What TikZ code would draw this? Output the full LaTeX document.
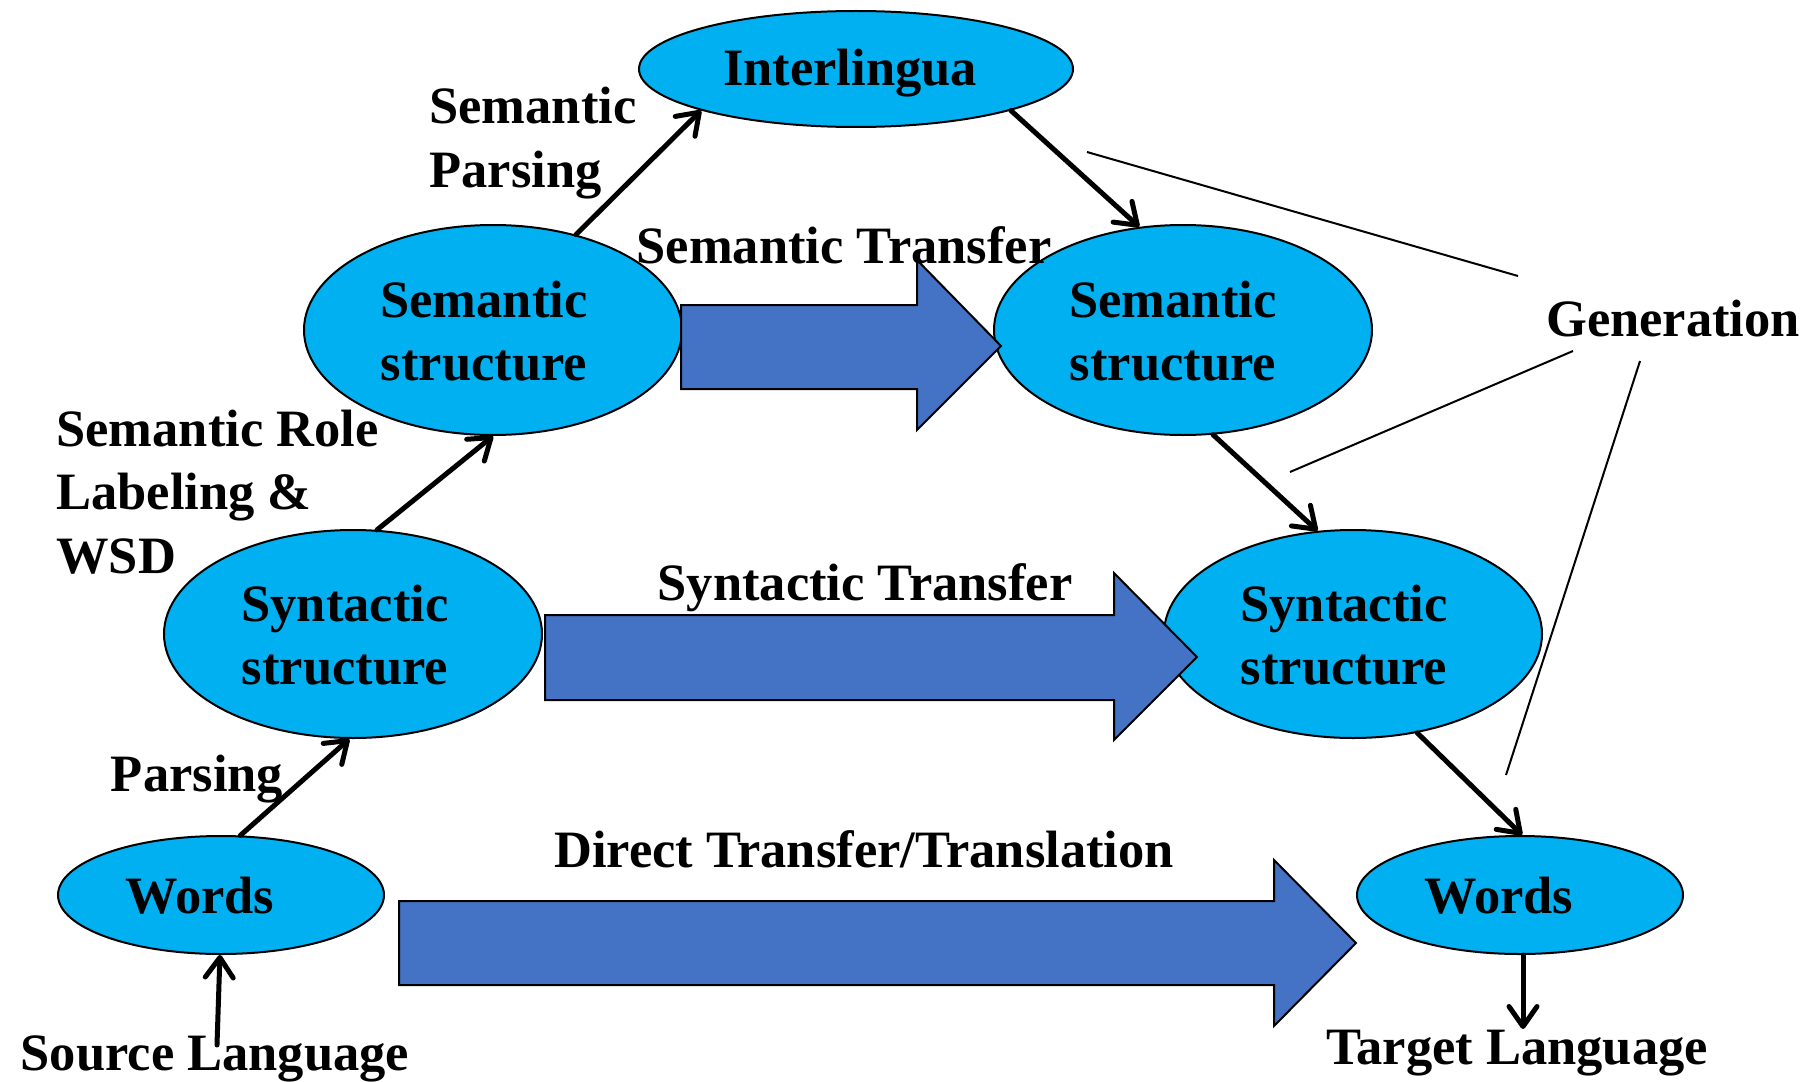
\documentclass[tikz,border=0pt]{standalone}
\usepackage{fontspec}
\setmainfont{Liberation Serif}
\usetikzlibrary{arrows.meta,shapes.geometric}
\definecolor{ellfill}{HTML}{00B0F0}
\definecolor{blockfill}{HTML}{4472C4}
\begin{document}
\begin{tikzpicture}[x=0.5pt,y=-0.5pt,
  ell/.style={ellipse, draw=black, line width=1pt, fill=ellfill, inner sep=0pt},
  lbl/.style={font=\fontsize{26.25}{31.8}\selectfont\bfseries, inner sep=0pt, align=left},
  ctr/.style={font=\fontsize{26.25}{31.8}\selectfont\bfseries, inner sep=0pt, align=center},
  arr/.style={line width=2.5pt, line cap=round, -{Straight Barb[length=10pt,width=14pt,round]}},
  genline/.style={line width=1pt},
  blk/.style={fill=blockfill, draw=black, line width=1pt}]
\useasboundingbox (0,0) rectangle (1814,1081);
% ellipses
\node[ell, minimum width=217pt, minimum height=58pt] (inter) at (856,69) {};
\node[ell, minimum width=189pt, minimum height=105pt] (sem1) at (493,330) {};
\node[ell, minimum width=189pt, minimum height=105pt] (sem2) at (1183,330) {};
\node[ell, minimum width=189pt, minimum height=104pt] (syn1) at (353,634) {};
\node[ell, minimum width=189pt, minimum height=104pt] (syn2) at (1353,634) {};
\node[ell, minimum width=163pt, minimum height=59pt] (w1) at (221,895) {};
\node[ell, minimum width=163pt, minimum height=59pt] (w2) at (1520,895) {};
% block arrows
\path[blk] (681,305) -- (917,305) -- (917,260) -- (1001,346) -- (917,430) -- (917,389) -- (681,389) -- cycle;
\path[blk] (545,615) -- (1114,615) -- (1114,573) -- (1197,657) -- (1114,740) -- (1114,700) -- (545,700) -- cycle;
\path[blk] (399,901) -- (1274,901) -- (1274,860) -- (1356,943) -- (1274,1026) -- (1274,985) -- (399,985) -- cycle;
% ellipse texts
\node[ctr, anchor=base] (tinter) at (850,86) {Interlingua};
\node[ctr] (tsem1) at (484,331) {Semantic\\structure};
\node[ctr] (tsem2) at (1173,331) {Semantic\\structure};
\node[ctr] (tsyn1) at (345,635) {Syntactic\\structure};
\node[ctr] (tsyn2) at (1344,635) {Syntactic\\structure};
\node[ctr, anchor=base] (tw1) at (200,913) {Words};
\node[ctr, anchor=base] (tw2) at (1499,913) {Words};
% labels
\node[lbl, anchor=west] (lsp) at (429,143) {Semantic\\Parsing};
\node[ctr, anchor=base] (lst) at (844,263) {Semantic Transfer};
\node[ctr, anchor=base] (lgen) at (1673,336) {Generation};
\node[lbl, anchor=west] (lsrl) at (56,492) {Semantic Role\\Labeling \&\\WSD};
\node[ctr, anchor=base] (lsyt) at (865,600) {Syntactic Transfer};
\node[ctr, anchor=base] (lpar) at (197,791) {Parsing};
\node[ctr, anchor=base] (ldir) at (864,867) {Direct Transfer/Translation};
\node[ctr, anchor=base] (ltl) at (1517,1064) {Target Language};
\node[ctr, anchor=base] (lsl) at (215,1070) {Source Language};
% arrows
\coordinate (tlarr) at (1523,1029);
\coordinate (slarr) at (217,1045);
\draw[arr] (w1.72) -- (syn1.268);
\draw[arr] (syn1.77) -- (sem1.270);
\draw[arr] (sem1.49) -- (inter.195);
\draw[arr] (inter.345) -- (sem2.113);
\draw[arr] (sem2.286) -- (syn2.109);
\draw[arr] (syn2.303) -- (w2.88);
\draw[arr] (w2.south -| tlarr) -- (tlarr);
\draw[arr] (slarr) -- (w1.269);
% generation lines
\coordinate (g1a) at (1087,152);
\coordinate (g1b) at (1518,276);
\coordinate (g2a) at (1573,351);
\coordinate (g2b) at (1290,472);
\coordinate (g3a) at (1640,361);
\coordinate (g3b) at (1506,775);
\draw[genline] (g1a) -- (g1b);
\draw[genline] (g2a) -- (g2b);
\draw[genline] (g3a) -- (g3b);
\end{tikzpicture}
\end{document}
